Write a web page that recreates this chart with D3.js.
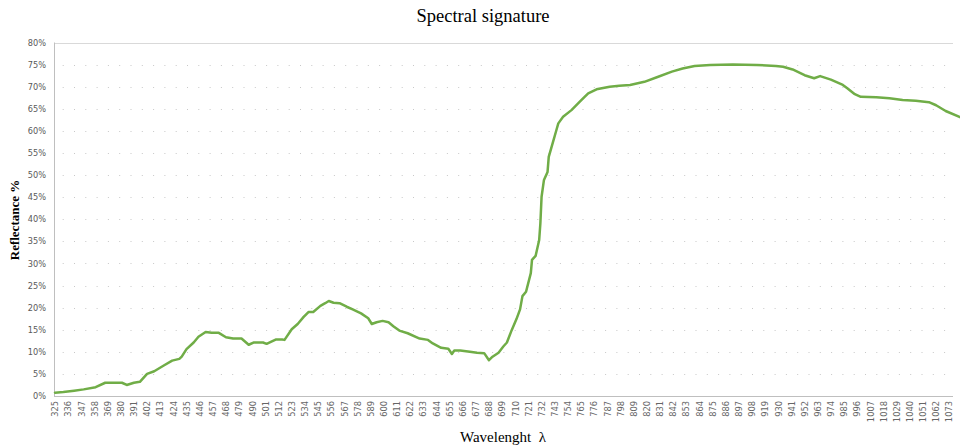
<!DOCTYPE html>
<html>
<head>
<meta charset="utf-8">
<script src="https://cdn.jsdelivr.net/npm/d3@7"></script>
<style>
  html, body { margin: 0; padding: 0; background: #fff; }
  svg { display: block; }
</style>
</head>
<body>
<svg id="chart" width="960" height="448"></svg>
<script>
// Measured reflectance spectrum (wavelength in nm, reflectance in %)
const wavelengths = [
  325, 332, 341, 349, 359, 367, 381, 385, 391, 396, 402, 408, 416, 423, 429, 431,
  435, 441, 445, 451, 456, 462, 468, 474, 481, 487, 491, 499, 502, 510, 515, 517,
  523, 528, 533, 537, 541, 547, 551, 554, 558, 563, 569, 574, 581, 587, 590, 594,
  599, 604, 608, 613, 620, 630, 637, 641, 648, 654, 657, 659, 664, 672, 678, 684,
  688, 691, 696, 700, 703, 707, 711, 714, 716, 719, 723, 724, 727, 730, 731, 732,
  734, 737, 738, 742, 744, 746, 750, 757, 764, 768, 771, 778, 789, 797, 806, 818,
  829, 841, 850, 860, 873, 892, 912, 928, 934, 942, 952, 960, 965, 974, 984, 988,
  994, 999, 1012, 1023, 1034, 1045, 1056, 1062, 1070, 1082
];
const reflectance = [
  0.75, 0.9, 1.2, 1.5, 2.0, 3.0, 3.0, 2.5, 3.0, 3.2, 5.0, 5.6, 6.9, 8.0, 8.4, 8.9,
  10.6, 12.1, 13.4, 14.5, 14.3, 14.3, 13.3, 13.0, 13.0, 11.6, 12.1, 12.1, 11.8, 12.8, 12.8, 12.7,
  15.1, 16.3, 17.9, 19.0, 19.0, 20.4, 21.0, 21.5, 21.1, 21.0, 20.2, 19.6, 18.7, 17.6, 16.3, 16.7,
  17.0, 16.7, 15.8, 14.8, 14.2, 13.0, 12.7, 11.9, 10.9, 10.7, 9.5, 10.3, 10.3, 10.0, 9.8, 9.7,
  8.1, 8.9, 9.8, 11.2, 12.1, 14.9, 17.4, 19.6, 22.6, 23.6, 27.8, 30.8, 31.7, 35.3, 39.1, 45.1,
  48.9, 50.7, 54.1, 57.9, 59.8, 61.7, 63.2, 64.7, 66.6, 67.7, 68.5, 69.4, 70.0, 70.2, 70.4, 71.1,
  72.2, 73.4, 74.1, 74.7, 74.9, 75.0, 74.9, 74.7, 74.5, 73.9, 72.6, 71.9, 72.4, 71.6, 70.4, 69.6,
  68.3, 67.7, 67.6, 67.4, 67.0, 66.8, 66.5, 65.8, 64.5, 63.1
];

// Category labels shown along the wavelength axis
const xTickLabels = [
  325, 336, 347, 358, 369, 380, 391, 402, 413, 424, 435, 446, 457, 468, 479, 490,
  501, 512, 523, 534, 545, 556, 567, 578, 589, 600, 611, 622, 633, 644, 655, 666,
  677, 688, 699, 710, 721, 732, 743, 754, 765, 776, 787, 798, 809, 820, 831, 842,
  853, 864, 875, 886, 897, 908, 919, 930, 941, 952, 963, 974, 985, 996, 1007, 1018,
  1029, 1040, 1051, 1062, 1073
];
const yTicks = [0, 5, 10, 15, 20, 25, 30, 35, 40, 45, 50, 55, 60, 65, 70, 75, 80];

const titleText = "Spectral signature";
const xTitle = "Wavelenght  \u03bb";
const yTitle = "Reflectance %";

const svg = d3.select("#chart");
const plotLeft = 54, plotRight = 953, plotTop = 42.5, plotBottom = 396;

const x = d3.scaleLinear().domain([325, 1082]).range([55, 960]);
const y = d3.scaleLinear().domain([0, 80]).range([plotBottom, plotTop]);

const data = wavelengths.map((w, i) => ({ w, v: reflectance[i] }));

// Horizontal gridlines: dotted, the top one solid
const grid = svg.append("g");
grid.selectAll("line")
  .data(yTicks.filter(t => t > 0))
  .join("line")
  .attr("x1", plotLeft).attr("x2", plotRight)
  .attr("y1", d => Math.round(y(d)) + 0.5).attr("y2", d => Math.round(y(d)) + 0.5)
  .attr("stroke", d => d === 80 ? "#d9d9d9" : "#c8c8c8")
  .attr("stroke-width", 1)
  .attr("stroke-dasharray", d => d === 80 ? null : "1 10.3")
  .attr("stroke-dashoffset", 2.6);

// Axis lines
svg.append("line")
  .attr("x1", plotLeft + 0.5).attr("x2", plotLeft + 0.5)
  .attr("y1", plotTop).attr("y2", plotBottom)
  .attr("stroke", "#bfbfbf");
svg.append("line")
  .attr("x1", plotLeft).attr("x2", plotRight)
  .attr("y1", plotBottom + 0.5).attr("y2", plotBottom + 0.5)
  .attr("stroke", "#bfbfbf");

// Y tick labels
const yAxis = d3.axisLeft(y).tickValues(yTicks).tickSize(0).tickPadding(8)
  .tickFormat(d => d + "%");
const gy = svg.append("g").attr("transform", `translate(${plotLeft},0)`).call(yAxis);
gy.select(".domain").remove();
gy.selectAll("text")
  .attr("font-family", "DejaVu Sans, Verdana, sans-serif")
  .attr("font-size", 8.2)
  .attr("fill", "#595959");

// X tick labels, rotated
const xAxis = d3.axisBottom(x).tickValues(xTickLabels).tickSize(0).tickFormat(d => d);
const gx = svg.append("g").attr("transform", `translate(0,${plotBottom})`).call(xAxis);
gx.select(".domain").remove();
gx.selectAll("text")
  .attr("font-family", "DejaVu Sans, Verdana, sans-serif")
  .attr("font-size", 8.3)
  .attr("fill", "#666666")
  .attr("text-anchor", "end")
  .attr("transform", "rotate(-90)")
  .attr("x", -5)
  .attr("y", 0)
  .attr("dy", "0.33em");

// Spectrum line
const line = d3.line().x(d => x(d.w)).y(d => y(d.v));
svg.append("path")
  .datum(data)
  .attr("d", line)
  .attr("fill", "none")
  .attr("stroke", "#70ad47")
  .attr("stroke-width", 2.5)
  .attr("stroke-linejoin", "round")
  .attr("stroke-linecap", "round");

// Titles
svg.append("text")
  .attr("x", 483).attr("y", 22)
  .attr("text-anchor", "middle")
  .attr("font-family", "Liberation Serif, Times New Roman, serif")
  .attr("font-size", 18.5)
  .attr("fill", "#000")
  .text(titleText);

svg.append("text")
  .attr("x", 503).attr("y", 442)
  .attr("text-anchor", "middle")
  .attr("font-family", "Liberation Serif, Times New Roman, serif")
  .attr("font-size", 15)
  .attr("fill", "#000")
  .style("white-space", "pre")
  .text(xTitle);

svg.append("text")
  .attr("transform", "translate(19,220) rotate(-90)")
  .attr("text-anchor", "middle")
  .attr("font-family", "Liberation Serif, Times New Roman, serif")
  .attr("font-size", 13)
  .attr("font-weight", "bold")
  .attr("fill", "#000")
  .text(yTitle);
</script>
</body>
</html>
